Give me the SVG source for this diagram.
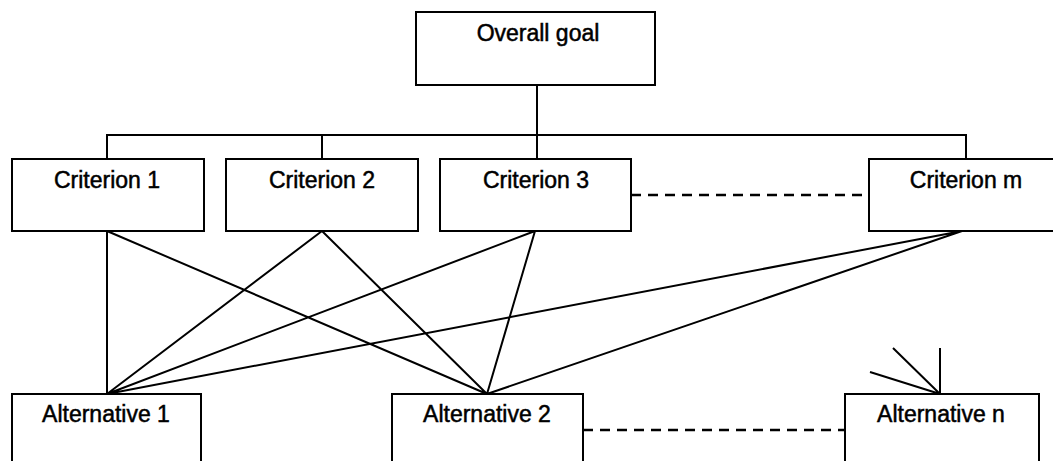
<svg xmlns="http://www.w3.org/2000/svg" width="1053" height="461" viewBox="0 0 1053 461">
<style>
.box{fill:#fff;stroke:#000;stroke-width:2}
.t{font-family:"Liberation Sans",Arial,sans-serif;font-size:23px;fill:#000;stroke:#000;stroke-width:0.5;text-anchor:middle}
.c{stroke:#000;stroke-width:2;fill:none}
.d{stroke:#000;stroke-width:2.5;fill:none;stroke-dasharray:10 7}
</style>
<rect width="1053" height="461" fill="#fff"/>
<g id="connectors">
<path class="c" d="M537 85V135M107 159V135H966V159M322 135V159M537 135V159"/>
<path class="c" d="M107 231V394M107 231L487 394M322 231L107 394M322 231L487 394M535 231L107 394M535 231L487 394M962 231L107 394M962 231L487 394"/>
<path class="c" d="M940 348V394M893 348L940 394M870 372L940 394"/>
<path class="d" d="M631 195H869M583 430H845"/>
</g>
<g id="goal"><rect class="box" x="416" y="12" width="239" height="73"/><text class="t" x="538" y="41">Overall goal</text></g>
<g id="crit1"><rect class="box" x="12" y="159" width="192" height="72"/><text class="t" x="107" y="188">Criterion 1</text></g>
<g id="crit2"><rect class="box" x="226" y="159" width="192" height="72"/><text class="t" x="322" y="188">Criterion 2</text></g>
<g id="crit3"><rect class="box" x="440" y="159" width="191" height="72"/><text class="t" x="536" y="188">Criterion 3</text></g>
<g id="critm"><rect class="box" x="869" y="159" width="194" height="72"/><text class="t" x="966" y="188">Criterion m</text></g>
<g id="alt1"><rect class="box" x="12" y="394" width="189" height="80"/><text class="t" x="106" y="422">Alternative 1</text></g>
<g id="alt2"><rect class="box" x="392" y="394" width="191" height="80"/><text class="t" x="487" y="422">Alternative 2</text></g>
<g id="altn"><rect class="box" x="845" y="394" width="194" height="80"/><text class="t" x="941" y="422">Alternative n</text></g>
</svg>
